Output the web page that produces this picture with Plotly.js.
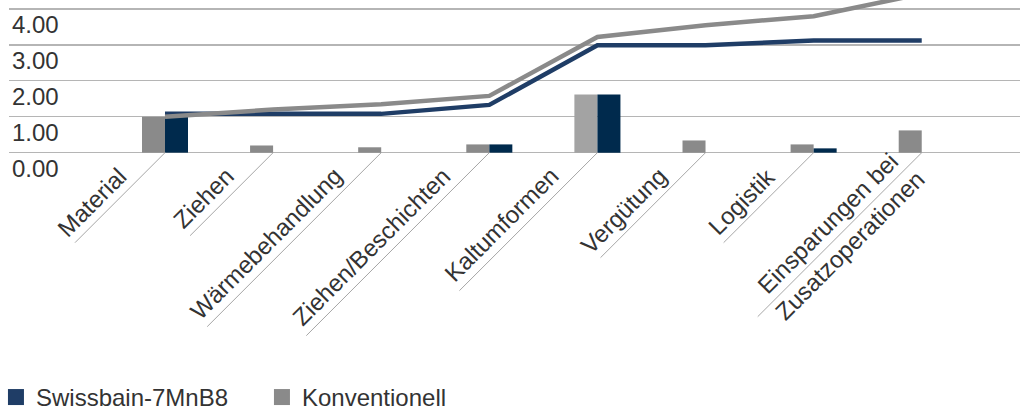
<!DOCTYPE html>
<html>
<head>
<meta charset="utf-8">
<script src="https://cdn.plot.ly/plotly-3.0.1.min.js"></script>
<style>html,body{margin:0;padding:0;background:#fff}#chart{width:1020px;height:411px}</style>
</head>
<body>
<div id="chart"></div>
<script>
// Data
const categories = ["Material", "Ziehen", "Wärmebehandlung", "Ziehen/Beschichten", "Kaltumformen", "Vergütung", "Logistik", "Einsparungen bei<br>Zusatzoperationen"];
const konventionellBars = [1.00, 0.20, 0.15, 0.23, 1.62, 0.34, 0.23, 0.62];
const swissbainBars     = [1.12, 0.00, 0.00, 0.23, 1.62, 0.00, 0.12, 0.00];
const konventionellCum  = [1.00, 1.20, 1.35, 1.58, 3.22, 3.55, 3.80, 4.42];
const swissbainCum      = [1.08, 1.08, 1.08, 1.33, 2.99, 2.99, 3.12, 3.12];
const yTickVals  = [0, 1, 2, 3, 4];
const yTickText  = ["0.00", "1.00", "2.00", "3.00", "4.00"];
const seriesNames = ["Swissbain-7MnB8", "Konventionell"];

// styling (not data)
const labelLineLen = [90, 83, 174, 183, 138, 105, 90, 164];
const FONT = "Liberation Sans, Arial, Helvetica, sans-serif";
const TXT = "#333333";
const NAVY_BAR = "#002a4d";
const NAVY_LINE = "#1f3d66";
const GREY = "#8a8a8a";
const GREY_LIGHT = "#a3a3a3";
const Y_MIN = -0.9, Y_MAX = 4.25;   // plot area extends below zero so the 0.00 label stays inside
const zeroFrac = (0 - Y_MIN) / (Y_MAX - Y_MIN);

const idx = categories.map((c, i) => i);
const greyColors = categories.map((c) => c === "Kaltumformen" ? GREY_LIGHT : GREY);

const traces = [
  {type: "bar", x: idx, y: konventionellBars, base: 0, marker: {color: greyColors}, showlegend: false, hoverinfo: "skip"},
  {type: "bar", x: idx, y: swissbainBars, base: 0, marker: {color: NAVY_BAR}, showlegend: false, hoverinfo: "skip"},
  {type: "scatter", mode: "lines", x: idx, y: swissbainCum, line: {color: NAVY_LINE, width: 4.5}, showlegend: false, hoverinfo: "skip"},
  {type: "scatter", mode: "lines", x: idx, y: konventionellCum, line: {color: GREY, width: 4.5}, showlegend: false, hoverinfo: "skip"},
  {type: "scatter", mode: "markers", x: [null], y: [null], name: seriesNames[0], marker: {symbol: "square", size: 18, color: NAVY_LINE}},
  {type: "scatter", mode: "markers", x: [null], y: [null], name: seriesNames[1], marker: {symbol: "square", size: 18, color: GREY}}
];

const annotations = categories.map((c, i) => {
  if (c.indexOf("<br>") >= 0) {
    return {x: i, y: 0, xref: "x", yref: "y", text: c, showarrow: false, textangle: -45,
      xanchor: "center", yanchor: "middle", align: "center", xshift: -83, yshift: -81,
      font: {family: FONT, size: 24, color: TXT}};
  }
  return {x: i, y: 0, xref: "x", yref: "y", text: c, showarrow: false, textangle: -45,
    xanchor: "right", yanchor: "top", xshift: -31, yshift: -7,
    font: {family: FONT, size: 24, color: TXT}};
});

const shapes = categories.map((c, i) => ({
  type: "line", xref: "x", yref: "paper", xsizemode: "pixel", ysizemode: "pixel",
  xanchor: i, yanchor: zeroFrac, x0: 0, y0: 0, x1: -labelLineLen[i], y1: -labelLineLen[i],
  line: {color: "#a6a6a6", width: 1}
}));

const layout = {
  width: 1020, height: 411,
  margin: {l: 9, r: 0, t: 0, b: 226, pad: 0, autoexpand: false},
  paper_bgcolor: "#ffffff", plot_bgcolor: "#ffffff",
  barmode: "group", bargap: 0.574, bargroupgap: 0,
  font: {family: FONT, size: 24, color: TXT},
  xaxis: {type: "linear", range: [-1.443, 7.909], showgrid: false, zeroline: false, showticklabels: false, showline: false, fixedrange: true, automargin: false},
  yaxis: {range: [Y_MIN, Y_MAX], tickvals: yTickVals, ticktext: yTickText, showgrid: true, gridcolor: "#b5b5b5", gridwidth: 1.3,
    zeroline: true, zerolinecolor: "#b5b5b5", zerolinewidth: 1.3, showline: false,
    ticklabelposition: "inside", ticklabelshift: 16, ticklabelstandoff: 0, automargin: false,
    tickfont: {family: FONT, size: 24, color: TXT}, fixedrange: true},
  legend: {orientation: "h", xref: "paper", yref: "paper", x: -0.0129, y: -1.27, xanchor: "left", yanchor: "bottom",
    font: {family: FONT, size: 24, color: TXT}, entrywidth: 221, entrywidthmode: "pixels", itemsizing: "trace", tracegroupgap: 0},
  annotations: annotations,
  shapes: shapes,
  showlegend: true
};

Plotly.newPlot("chart", traces, layout, {displayModeBar: false, staticPlot: true});
</script>
</body>
</html>
